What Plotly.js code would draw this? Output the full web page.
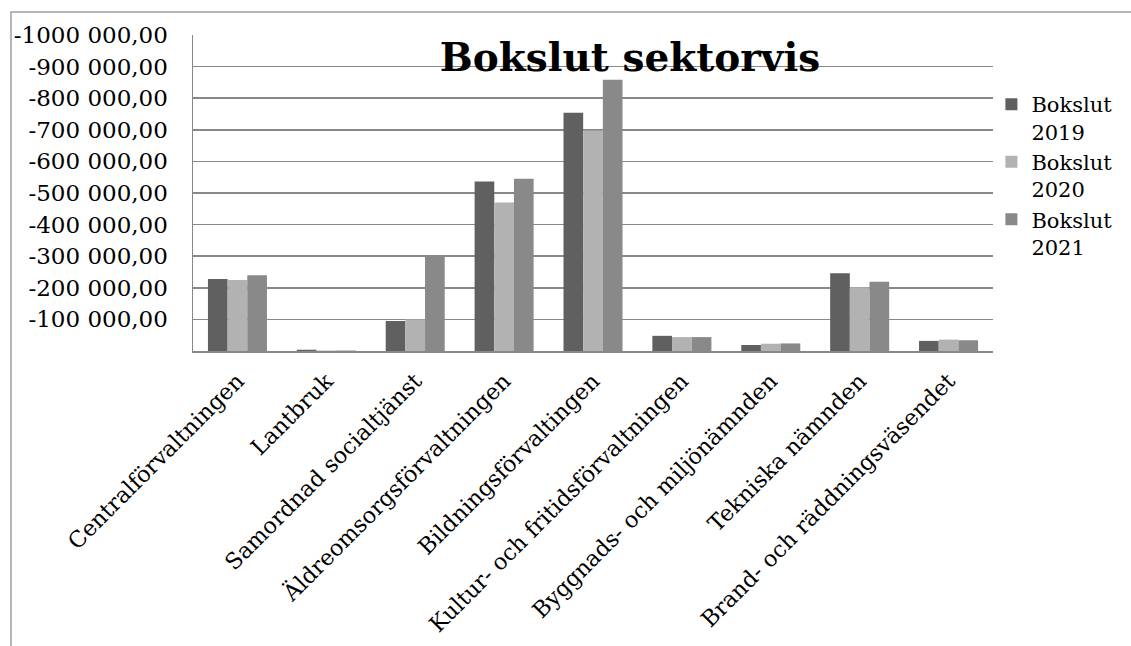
<!DOCTYPE html>
<html>
<head>
<meta charset="utf-8">
<script src="https://cdn.plot.ly/plotly-3.0.1.min.js"></script>
<style>html,body{margin:0;padding:0;background:#fff;}#chart{width:1131px;height:646px;}</style>
</head>
<body>
<div id="chart"></div>
<script>
const categories = [
  "Centralförvaltningen",
  "Lantbruk",
  "Samordnad socialtjänst",
  "Äldreomsorgsförvaltningen",
  "Bildningsförvaltingen",
  "Kultur- och fritidsförvaltningen",
  "Byggnads- och miljönämnden",
  "Tekniska nämnden",
  "Brand- och räddningsväsendet"
];
const seriesNames = ["Bokslut<br>2019", "Bokslut<br>2020", "Bokslut<br>2021"];
const bokslut2019 = [-228000, -4000, -95000, -536000, -754000, -48000, -19000, -246000, -32000];
const bokslut2020 = [-225000, -1500, -100000, -470000, -698000, -44000, -23000, -202000, -36000];
const bokslut2021 = [-240000, -1500, -302000, -545000, -858000, -44000, -24000, -219000, -34000];
const tickValues = [-100000, -200000, -300000, -400000, -500000, -600000, -700000, -800000, -900000, -1000000];
const tickLabels = ["-100 000,00", "-200 000,00", "-300 000,00", "-400 000,00", "-500 000,00",
                    "-600 000,00", "-700 000,00", "-800 000,00", "-900 000,00", "-1000 000,00"];
const colors = ["#606060", "#b2b2b2", "#898989"];

const serif = "DejaVu Serif, Liberation Serif, serif";
const allSeries = [bokslut2019, bokslut2020, bokslut2021];
const traces = allSeries.map((vals, i) => ({
  type: "bar",
  x: categories,
  y: vals,
  name: seriesNames[i],
  marker: {color: colors[i], line: {width: 0}},
  hoverinfo: "skip"
}));

const layout = {
  width: 1131, height: 646,
  margin: {l: 193, r: 138, t: 35, b: 295},
  paper_bgcolor: "#ffffff",
  plot_bgcolor: "#ffffff",
  barmode: "group",
  bargap: 0.336,
  bargroupgap: 0,
  font: {family: serif, color: "#000000", size: 22},
  title: {
    text: "<b>Bokslut sektorvis</b>",
    font: {family: serif, size: 39, color: "#000000"},
    xref: "container", yref: "container",
    x: 630/1131, y: 1 - 57/646, xanchor: "center", yanchor: "middle"
  },
  xaxis: {
    type: "category",
    tickangle: -45,
    showgrid: false,
    showline: true, linecolor: "#888888", linewidth: 2,
    ticks: "", ticklabelstandoff: 6,
    tickfont: {family: serif, size: 22.4, color: "#000"},
    fixedrange: true
  },
  yaxis: {
    range: [0, -1000000],
    tickvals: tickValues, ticktext: tickLabels,
    showgrid: true, gridcolor: "#888888", gridwidth: 1.5,
    showline: true, linecolor: "#888888", linewidth: 1.5,
    zeroline: false,
    ticks: "", ticklabelstandoff: 19,
    tickfont: {family: serif, size: 23, color: "#000"},
    fixedrange: true
  },
  legend: {
    x: 0.998, y: 0.845, xanchor: "left", yanchor: "top",
    valign: "top",
    font: {family: serif, size: 21, color: "#000"},
    tracegroupgap: 0, itemwidth: 30,
    bgcolor: "rgba(0,0,0,0)"
  },
  shapes: [{
    type: "rect", xref: "paper", yref: "paper", layer: "below",
    x0: (11-193)/800, x1: (1160-193)/800,
    y0: (351-680)/316, y1: (351-12)/316,
    line: {color: "#a0a0a0", width: 1.5}, fillcolor: "rgba(0,0,0,0)"
  }]
};

Plotly.newPlot("chart", traces, layout, {displayModeBar: false, staticPlot: true});
</script>
</body>
</html>
